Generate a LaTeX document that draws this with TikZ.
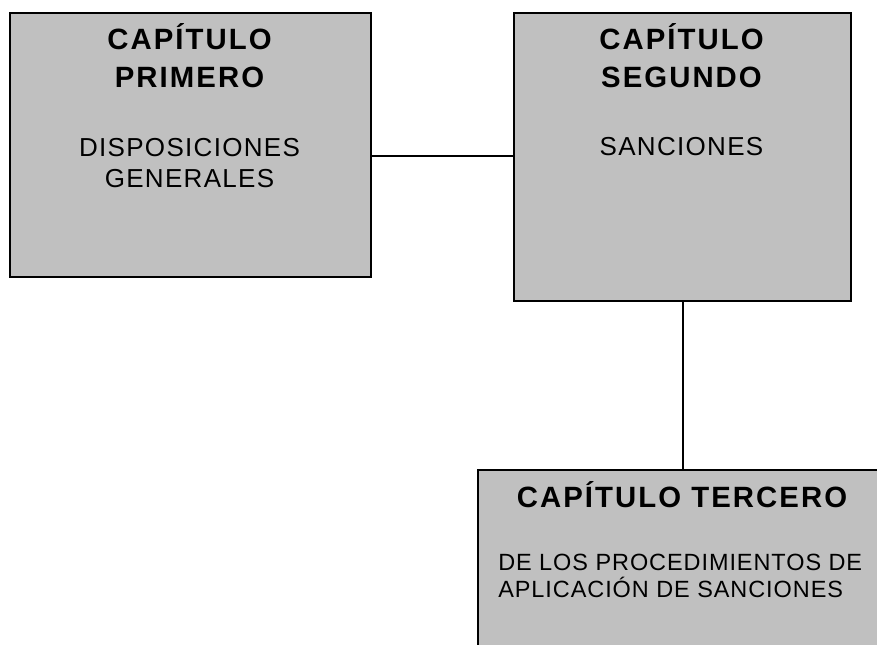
\documentclass[tikz,border=0pt]{standalone}
\usepackage{fontspec}
\setmainfont{Liberation Sans}
\newfontfamily\titlefont[LetterSpace=7]{Liberation Sans}
\newfontfamily\bodyfont[LetterSpace=5]{Liberation Sans}
\newfontfamily\bodyfontb[LetterSpace=4]{Liberation Sans}
\begin{document}
\begin{tikzpicture}[x=0.75pt,y=-0.75pt,
  box/.style={draw=black,fill=boxgrey,line width=1.3pt,rectangle,inner sep=0pt},
  ttl/.style={inner sep=0pt,anchor=base,font=\titlefont\bfseries\fontsize{22}{26}\selectfont},
  txt/.style={inner sep=0pt,anchor=base,font=\bodyfont\fontsize{19.5}{23}\selectfont},
  txtl/.style={inner sep=0pt,anchor=base west,font=\bodyfontb\fontsize{17.6}{21}\selectfont},
  link/.style={draw=black,line width=1.1pt}]
\definecolor{boxgrey}{HTML}{C0C0C0}
\useasboundingbox (0,0) rectangle (877,645);
\node[box,minimum width=361*0.75pt,minimum height=264*0.75pt,anchor=north west] (box1) at (9,12) {};
\node[box,minimum width=337*0.75pt,minimum height=288*0.75pt,anchor=north west] (box2) at (513,12) {};
\node[box,minimum width=430*0.75pt,minimum height=240*0.75pt,anchor=north west] (box3) at (477,469) {};
\node[ttl] (t1a) at (189.5,50) {CAPÍTULO};
\node[ttl] (t1b) at (189.5,88) {PRIMERO};
\node[txt] (s1a) at (189.5,157) {DISPOSICIONES};
\node[txt] (s1b) at (189.5,188) {GENERALES};
\node[ttl] (t2a) at (681.5,50) {CAPÍTULO};
\node[ttl] (t2b) at (681.5,88) {SEGUNDO};
\node[txt] (s2a) at (681.5,156) {SANCIONES};
\node[ttl] (t3a) at (682,507) {CAPÍTULO TERCERO};
\node[txtl] (s3a) at (498,570) {DE LOS PROCEDIMIENTOS DE};
\node[txtl] (s3b) at (498,597) {APLICACIÓN DE SANCIONES};
\coordinate (j) at (0,156);
\draw[link] (box1.east |- j) -- (box2.west |- j);
\draw[link] (box2.south -| 683,0) -- (box3.north -| 683,0);
\end{tikzpicture}
\end{document}
